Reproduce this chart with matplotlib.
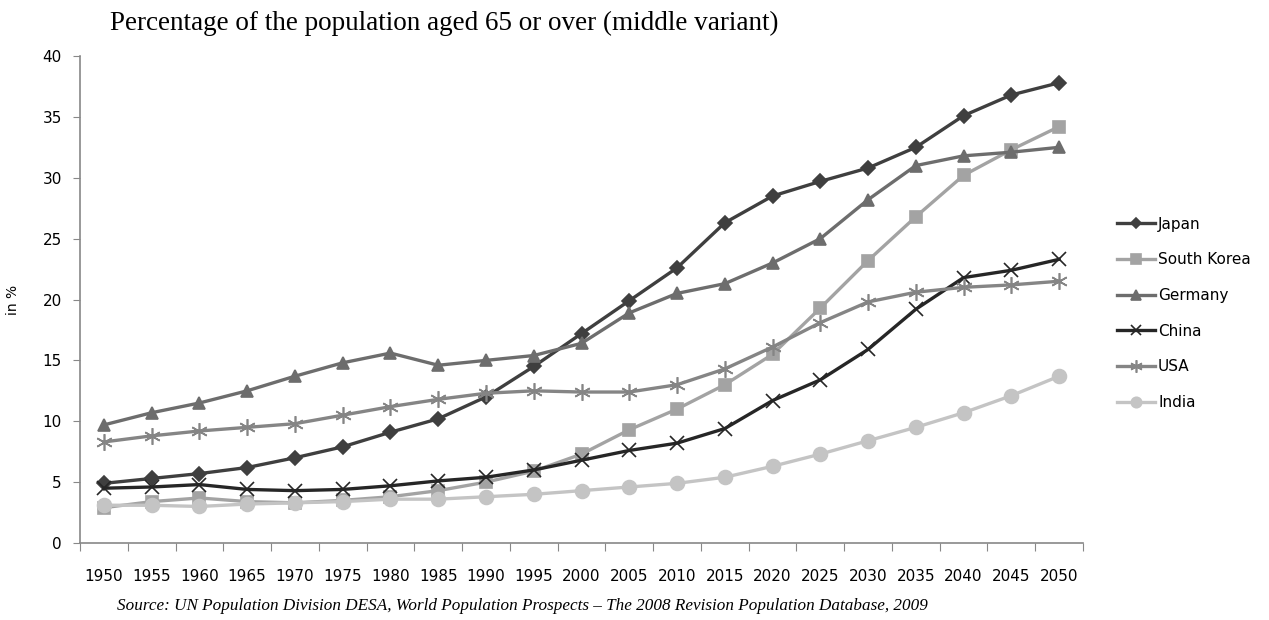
import matplotlib
matplotlib.use('Agg')
import matplotlib.pyplot as plt
import numpy as np

# data (percent aged 65+)
years = [1950, 1955, 1960, 1965, 1970, 1975, 1980, 1985, 1990, 1995, 2000,
         2005, 2010, 2015, 2020, 2025, 2030, 2035, 2040, 2045, 2050]
japan = [4.9, 5.3, 5.7, 6.2, 7.0, 7.9, 9.1, 10.2, 12.0, 14.5, 17.2,
         19.9, 22.6, 26.3, 28.5, 29.7, 30.8, 32.5, 35.1, 36.8, 37.8]
korea = [2.9, 3.4, 3.7, 3.4, 3.3, 3.5, 3.8, 4.3, 5.0, 5.9, 7.3,
         9.3, 11.0, 13.0, 15.5, 19.3, 23.2, 26.8, 30.2, 32.3, 34.2]
germany = [9.7, 10.7, 11.5, 12.5, 13.7, 14.8, 15.6, 14.6, 15.0, 15.4, 16.4,
           18.9, 20.5, 21.3, 23.0, 25.0, 28.2, 31.0, 31.8, 32.1, 32.5]
china = [4.5, 4.6, 4.8, 4.4, 4.3, 4.4, 4.7, 5.1, 5.4, 6.0, 6.8,
         7.6, 8.2, 9.4, 11.7, 13.4, 15.9, 19.2, 21.8, 22.4, 23.3]
usa = [8.3, 8.8, 9.2, 9.5, 9.8, 10.5, 11.2, 11.8, 12.3, 12.5, 12.4,
       12.4, 13.0, 14.3, 16.1, 18.1, 19.8, 20.6, 21.0, 21.2, 21.5]
india = [3.1, 3.1, 3.0, 3.2, 3.3, 3.4, 3.6, 3.6, 3.8, 4.0, 4.3,
         4.6, 4.9, 5.4, 6.3, 7.3, 8.4, 9.5, 10.7, 12.1, 13.7]

series = [('Japan', japan, '#3f3f3f', 'D', 7),
          ('South Korea', korea, '#a3a3a3', 's', 9),
          ('Germany', germany, '#6d6d6d', '^', 9),
          ('China', china, '#262626', 'x', 10),
          ('USA', usa, '#858585', (6, 2, 0), 12),
          ('India', india, '#c4c4c4', 'o', 10)]

fig = plt.figure(figsize=(12.69, 6.2), dpi=100)
ax = fig.add_axes([80/1269, 77/620, 1003/1269, 487/620])

x = np.arange(len(years))
for name, vals, col, mk, ms in series:
    ax.plot(x, vals, color=col, lw=2.4, marker=mk, ms=ms, mec=col, mfc=col,
            mew=1.2, label=name)

ax.set_xlim(-0.5, len(years) - 0.5)
ax.set_ylim(0, 40)
ax.set_yticks(range(0, 41, 5))
ax.set_xticks(np.arange(-0.5, len(years), 1.0))
ax.set_xticklabels([])
ax.set_xticks(x, minor=True)
ax.set_xticklabels([str(y) for y in years], minor=True)
ax.tick_params(axis='x', which='major', length=6, color='#888888', direction='out')
ax.tick_params(axis='x', which='minor', length=0, pad=19, labelsize=11)
ax.tick_params(axis='y', length=5, color='#888888', labelsize=11, pad=8)
for s in ['top', 'right']:
    ax.spines[s].set_visible(False)
for s in ['left', 'bottom']:
    ax.spines[s].set_color('#888888')
    ax.spines[s].set_linewidth(1.2)

ax.set_ylabel('in %', fontsize=10, labelpad=16)

fig.text(110/1269, 1 - 23/620, 'Percentage of the population aged 65 or over (middle variant)',
         family='Liberation Serif', fontsize=19.5, va='center', ha='left')
fig.text(117/1269, 1 - 606/620,
         'Source: UN Population Division DESA, World Population Prospects \u2013 The 2008 Revision Population Database, 2009',
         family='Liberation Serif', style='italic', fontsize=12.3, va='center', ha='left')

ax.legend(loc='upper left', bbox_to_anchor=(1103/1269, 1 - 203/620),
          bbox_transform=fig.transFigure, frameon=False, fontsize=11,
          handlelength=2.5, handletextpad=0.2, labelspacing=1.35, markerscale=0.75)

fig.savefig('out.png', dpi=100)
